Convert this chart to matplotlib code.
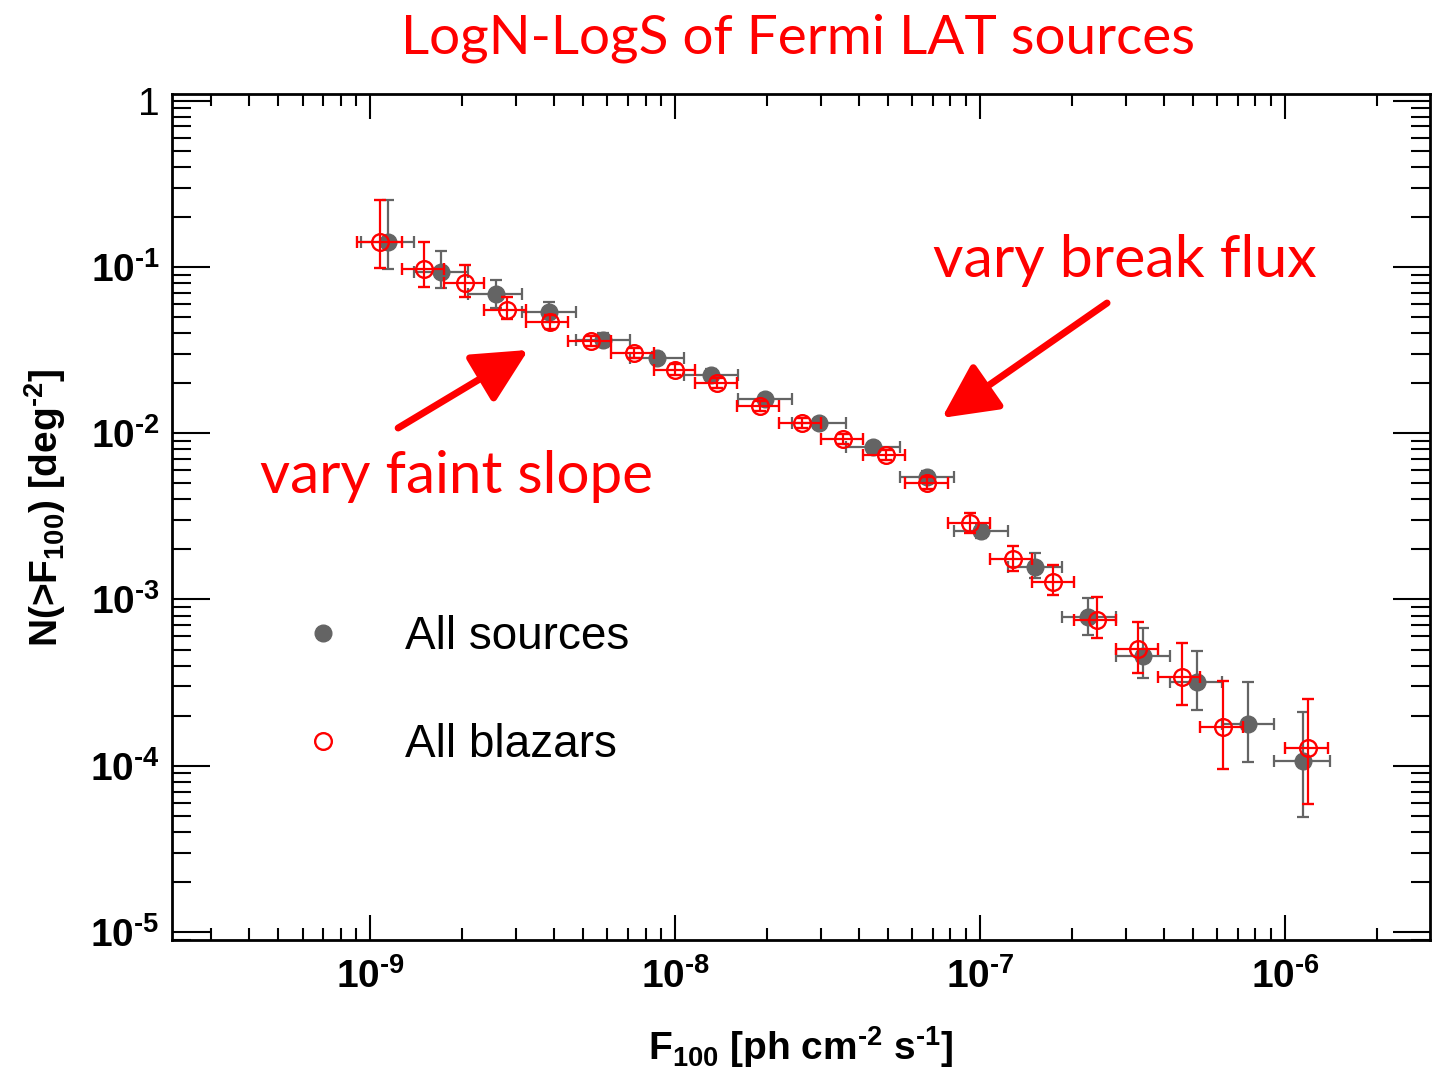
import numpy as np
import matplotlib
matplotlib.use("Agg")
import matplotlib.pyplot as plt
from matplotlib.lines import Line2D
from matplotlib.ticker import LogLocator, FuncFormatter, NullFormatter, FixedLocator

plt.rcParams['font.family'] = ['Liberation Sans', 'DejaVu Sans']
plt.rcParams['mathtext.fontset'] = 'custom'
plt.rcParams['mathtext.rm'] = 'Liberation Sans:bold'
plt.rcParams['mathtext.it'] = 'Liberation Sans:bold'
plt.rcParams['mathtext.bf'] = 'Liberation Sans:bold'

# All sources (grey filled)
gray_x = [1.14e-9, 1.71e-9, 2.59e-9, 3.86e-9, 5.81e-9, 8.73e-9, 1.31e-8, 1.97e-8, 2.97e-8,
          4.46e-8, 6.70e-8, 1.007e-7, 1.51e-7, 2.26e-7, 3.42e-7, 5.14e-7, 7.56e-7, 1.15e-6]
gray_y = [0.141, 0.0933, 0.0688, 0.0536, 0.0364, 0.0284, 0.0224, 0.0161, 0.0115,
          0.00827, 0.00546, 0.00258, 0.00157, 0.000785, 0.000457, 0.000319, 0.000178, 0.000107]
gray_ylo = [0.0972, 0.0748, 0.0566, 0.0467, 0.0330, 0.0261, 0.0206, 0.0150, 0.0108,
            0.00771, 0.00502, 0.00234, 0.00135, 0.000612, 0.000338, 0.000217, 0.000105, 4.9e-5]
gray_yhi = [0.252, 0.125, 0.0835, 0.0615, 0.0401, 0.0308, 0.0244, 0.0172, 0.0124,
            0.00887, 0.00593, 0.00284, 0.00190, 0.00102, 0.000675, 0.000490, 0.000319, 0.000210]
gray_edges = [9.34e-10, 1.394e-9, 2.096e-9, 3.15e-9, 4.74e-9, 7.12e-9, 1.07e-8, 1.61e-8, 2.42e-8,
              3.64e-8, 5.47e-8, 8.22e-8, 1.236e-7, 1.857e-7, 2.79e-7, 4.20e-7, 6.22e-7, 9.2e-7, 1.405e-6]

# All blazars (red open)
red_x = [1.078e-9, 1.50e-9, 2.05e-9, 2.81e-9, 3.89e-9, 5.30e-9, 7.34e-9, 1.00e-8, 1.37e-8, 1.90e-8, 2.61e-8,
         3.56e-8, 4.92e-8, 6.70e-8, 9.27e-8, 1.28e-7, 1.73e-7, 2.42e-7, 3.30e-7, 4.60e-7, 6.27e-7, 1.19e-6]
red_y = [0.141, 0.0972, 0.0801, 0.0551, 0.0467, 0.0359, 0.0304, 0.0240, 0.0201, 0.0146, 0.0115,
         0.00924, 0.00740, 0.00502, 0.00289, 0.00175, 0.00127, 0.000753, 0.000505, 0.000342, 0.000171, 0.000128]
red_ylo = [0.0986, 0.0758, 0.0660, 0.0486, 0.0424, 0.0335, 0.0284, 0.0224, 0.0187, 0.0137, 0.0108,
           0.00862, 0.00691, 0.00463, 0.00251, 0.00149, 0.00107, 0.000588, 0.000362, 0.000232, 9.6e-5, 5.9e-5]
red_yhi = [0.252, 0.141, 0.103, 0.0660, 0.0514, 0.0386, 0.0326, 0.0262, 0.0216, 0.0156, 0.0124,
           0.00990, 0.00794, 0.00546, 0.00332, 0.00210, 0.00161, 0.00104, 0.000734, 0.000548, 0.000323, 0.000252]
red_xlo = [9.07e-10, 1.27e-9, 1.74e-9, 2.37e-9, 3.25e-9, 4.46e-9, 6.17e-9, 8.53e-9, 1.16e-8, 1.60e-8, 2.19e-8,
           3.01e-8, 4.13e-8, 5.68e-8, 7.86e-8, 1.08e-7, 1.48e-7, 2.03e-7, 2.79e-7, 3.83e-7, 5.26e-7, 1.00e-6]
red_xhi = [1.27e-9, 1.74e-9, 2.37e-9, 3.25e-9, 4.46e-9, 6.17e-9, 8.53e-9, 1.16e-8, 1.60e-8, 2.19e-8, 3.01e-8,
           4.13e-8, 5.68e-8, 7.86e-8, 1.08e-7, 1.48e-7, 2.03e-7, 2.79e-7, 3.83e-7, 5.26e-7, 7.28e-7, 1.38e-6]

x_major = [1e-9, 1e-8, 1e-7, 1e-6]
y_major = [1e-5, 1e-4, 1e-3, 1e-2, 1e-1, 1.0]

gx = np.array(gray_x); gy = np.array(gray_y); ge = np.array(gray_edges)
rx = np.array(red_x); ry = np.array(red_y)

GREY = '#646464'
RED = '#ff0000'

fig = plt.figure(figsize=(14.35, 10.71), dpi=100)
ax = fig.add_axes([0.1199, 0.1223, 0.8766, 0.7899])

ax.errorbar(gx, gy, xerr=[gx - ge[:-1], ge[1:] - gx],
            yerr=[gy - np.array(gray_ylo), np.array(gray_yhi) - gy],
            fmt='o', ms=12, color=GREY, ecolor=GREY, elinewidth=1.6, capsize=4, capthick=1.6, zorder=2)
ax.errorbar(rx, ry, xerr=[rx - np.array(red_xlo), np.array(red_xhi) - rx],
            yerr=[ry - np.array(red_ylo), np.array(red_yhi) - ry],
            fmt='o', ms=12, mfc='none', mec=RED, mew=1.7, color=RED, ecolor=RED,
            elinewidth=1.6, capsize=4, capthick=1.6, zorder=3)

ax.set_xscale('log')
ax.set_yscale('log')
ax.set_xlim(2.24e-10, 2.99e-6)
ax.set_ylim(8.95e-6, 1.097)


def fmt_log(v, pos):
    e = int(round(np.log10(v)))
    if e == 0:
        return '1'
    return r'$10^{\text{-}%d}$' % (-e)


ax.xaxis.set_major_locator(FixedLocator(x_major))
ax.yaxis.set_major_locator(FixedLocator(y_major))
for axis in (ax.xaxis, ax.yaxis):
    axis.set_minor_locator(LogLocator(base=10, subs=np.arange(2, 10), numticks=20))
    axis.set_major_formatter(FuncFormatter(fmt_log))
    axis.set_minor_formatter(NullFormatter())

ax.tick_params(which='both', direction='in', top=True, right=True, width=1.5, colors='black')
ax.tick_params(axis='y', which='major', length=27, pad=9, labelsize=28)
ax.tick_params(axis='y', which='minor', length=13.5)
ax.tick_params(axis='x', which='major', length=18, pad=13, labelsize=28)
ax.tick_params(axis='x', which='minor', length=8.6)
for s in ax.spines.values():
    s.set_linewidth(2)
# ROOT-style labels sit a little below the tick
for lbl in ax.get_yticklabels():
    lbl.set_va('center_baseline')

ax.set_xlabel(r'F$_{100}$ [ph cm$^{\text{-}2}$ s$^{\text{-}1}$]', fontsize=28, fontweight='bold')
ax.set_ylabel(r'N(>F$_{100}$) [deg$^{\text{-}2}$]', fontsize=28, fontweight='bold')
ax.xaxis.set_label_coords(0.5, -0.10)
ax.yaxis.set_label_coords(-0.083, 0.511)

handles = [Line2D([], [], ls='none', marker='o', ms=12, color=GREY),
           Line2D([], [], ls='none', marker='o', ms=12, mfc='none', mec=RED, mew=1.7)]
ax.legend(handles, ['All sources', 'All blazars'], loc='upper left', bbox_to_anchor=(0.1017, 0.384),
          frameon=False, fontsize=33, handlelength=1.0, handletextpad=1.3, labelspacing=1.4,
          borderpad=0, borderaxespad=0)

fig.text(0.5564, 0.9505, 'LogN-LogS of Fermi LAT sources', color=RED, fontsize=39.5,
         family='Lato', ha='center', va='baseline')
fig.text(0.650, 0.7414, 'vary break flux', color=RED, fontsize=42.5, family='Lato', ha='left', va='baseline')
fig.text(0.1812, 0.5397, 'vary faint slope', color=RED, fontsize=42, family='Lato', ha='left', va='baseline')

arrow = dict(arrowstyle='-|>,head_length=1.2,head_width=0.6', color=RED, lw=5,
             mutation_scale=28, shrinkA=0, shrinkB=0)
ax.annotate('', xy=(3.30e-9, 0.0317), xytext=(1.235e-9, 0.01075), arrowprops=arrow)
ax.annotate('', xy=(7.50e-8, 0.01236), xytext=(2.61e-7, 0.0607), arrowprops=arrow)

fig.savefig('out.png', dpi=100)
